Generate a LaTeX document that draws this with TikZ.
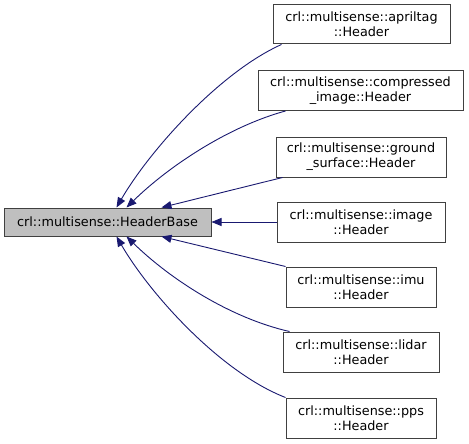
\documentclass[tikz,border=0pt]{standalone}
\usepackage{fontspec}
\setmainfont{DejaVu Sans}
\usetikzlibrary{arrows.meta}
\definecolor{edgeblue}{HTML}{191970}
\definecolor{boxline}{HTML}{404040}
\definecolor{basefill}{HTML}{BFBFBF}
\tikzset{
  cls/.style={draw=boxline, line width=1pt, fill=white, inner sep=0pt, align=center,
    font=\fontsize{12.8}{15}\selectfont},
  basecls/.style={cls, fill=basefill},
  inh/.style={draw=edgeblue, line width=0.9pt, -{Triangle[length=10pt,width=8pt]}, shorten >=0pt}
}
\begin{document}
\begin{tikzpicture}[x=1pt,y=-1pt]
\useasboundingbox (0,0) rectangle (469,444);
\node[basecls, minimum width=207pt, minimum height=28pt] (base) at (107.5,222) {crl::multisense::HeaderBase};
\node[cls, minimum width=177pt, minimum height=39pt] (apriltag) at (361.5,24.5) {crl::multisense::apriltag\\::Header};
\node[cls, minimum width=205pt, minimum height=40pt] (compressed) at (360.5,90.5) {crl::multisense::compressed\\\_image::Header};
\node[cls, minimum width=170pt, minimum height=40pt] (ground) at (361,157) {crl::multisense::ground\\\_surface::Header};
\node[cls, minimum width=168pt, minimum height=40pt] (image) at (361,222) {crl::multisense::image\\::Header};
\node[cls, minimum width=150pt, minimum height=40pt] (imu) at (361,287) {crl::multisense::imu\\::Header};
\node[cls, minimum width=156pt, minimum height=40pt] (lidar) at (361,352) {crl::multisense::lidar\\::Header};
\node[cls, minimum width=150pt, minimum height=40pt] (pps) at (361,418) {crl::multisense::pps\\::Header};

\draw[inh] ([xshift=9pt]apriltag.south west) .. controls (220,72) and (150,150) .. ([xshift=113pt]base.north west);
\draw[inh] ([xshift=28pt]compressed.south west) .. controls (230,126) and (170,165) .. ([xshift=123pt]base.north west);
\draw[inh] ([xshift=7pt]ground.south west) -- ([xshift=158pt]base.north west);
\draw[inh] (image.west) -- (base.east);
\draw[inh] ([xshift=0pt]imu.north west) -- ([xshift=158pt]base.south west);
\draw[inh] ([xshift=7pt]lidar.north west) .. controls (230,318) and (170,279) .. ([xshift=123pt]base.south west);
\draw[inh] ([xshift=0pt]pps.north west) .. controls (220,372) and (150,294) .. ([xshift=113pt]base.south west);
\end{tikzpicture}
\end{document}
